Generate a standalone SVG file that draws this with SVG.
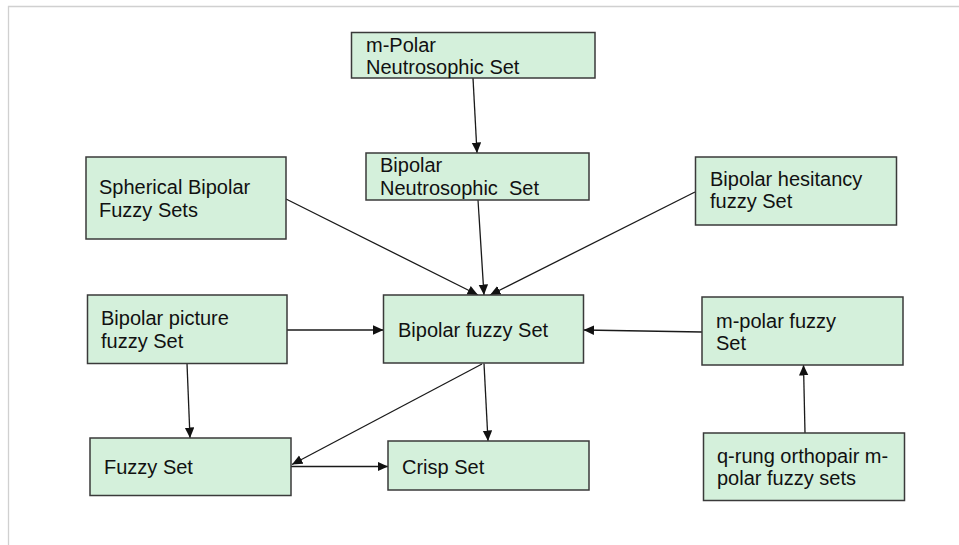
<svg xmlns="http://www.w3.org/2000/svg" width="959" height="545" viewBox="0 0 959 545">
  <style>
    .box rect { fill: #d4f0db; stroke: #3a3a3a; stroke-width: 1.5; }
    .box text { font-family: "Liberation Sans", Arial, sans-serif; font-size: 20px; fill: #111; white-space: pre; }
    .conn line { stroke: #1a1a1a; stroke-width: 1.3; marker-end: url(#arrow); }
  </style>
  <defs>
    <marker id="arrow" markerUnits="userSpaceOnUse" markerWidth="12" markerHeight="10" refX="10.5" refY="4.75" orient="auto">
      <path d="M0,0 L10.5,4.75 L0,9.5 z" fill="#111"/>
    </marker>
  </defs>
  <rect x="0" y="0" width="959" height="545" fill="#ffffff"/>
  <path d="M8.5,545 V6.5 H959" fill="none" stroke="#d0d0d0" stroke-width="1.3"/>

  <g id="conns" class="conn">
    <line x1="473" y1="78" x2="477" y2="153"/>
    <line x1="286" y1="199" x2="478" y2="295"/>
    <line x1="478" y1="200" x2="484" y2="295"/>
    <line x1="695" y1="192" x2="490" y2="295"/>
    <line x1="287" y1="330" x2="383.5" y2="330"/>
    <line x1="702" y1="332" x2="583.5" y2="330"/>
    <line x1="187" y1="363.5" x2="190" y2="438"/>
    <line x1="482" y1="364" x2="292" y2="464.5"/>
    <line x1="291" y1="466.5" x2="388" y2="466.5"/>
    <line x1="484" y1="363.5" x2="488" y2="441"/>
    <line x1="805" y1="433" x2="803.5" y2="365"/>
  </g>

  <g id="mpolar-neutro" class="box">
    <rect x="351.5" y="32.5" width="243.5" height="45.5"/>
    <text x="366" y="52">m-Polar</text>
    <text x="366" y="74">Neutrosophic Set</text>
  </g>
  <g id="bipolar-neutro" class="box">
    <rect x="366" y="153" width="223" height="47"/>
    <text x="380" y="172">Bipolar</text>
    <text x="380" y="195">Neutrosophic  Set</text>
  </g>
  <g id="spherical" class="box">
    <rect x="86" y="157" width="200" height="82"/>
    <text x="99" y="194">Spherical Bipolar</text>
    <text x="99" y="216.5">Fuzzy Sets</text>
  </g>
  <g id="hesitancy" class="box">
    <rect x="695.5" y="157" width="201" height="68"/>
    <text x="710" y="186">Bipolar hesitancy</text>
    <text x="710" y="208">fuzzy Set</text>
  </g>
  <g id="picture" class="box">
    <rect x="87.5" y="295" width="199.5" height="68.5"/>
    <text x="101" y="325">Bipolar picture</text>
    <text x="101" y="347.5">fuzzy Set</text>
  </g>
  <g id="bipolar-fuzzy" class="box">
    <rect x="383.5" y="295" width="200" height="68"/>
    <text x="398" y="337">Bipolar fuzzy Set</text>
  </g>
  <g id="mpolar-fuzzy" class="box">
    <rect x="702" y="297" width="201" height="68"/>
    <text x="716" y="328">m-polar fuzzy</text>
    <text x="716" y="350">Set</text>
  </g>
  <g id="fuzzy" class="box">
    <rect x="90" y="438" width="201" height="57.5"/>
    <text x="104" y="474">Fuzzy Set</text>
  </g>
  <g id="crisp" class="box">
    <rect x="388" y="441" width="201" height="49"/>
    <text x="402" y="474">Crisp Set</text>
  </g>
  <g id="qrung" class="box">
    <rect x="703.5" y="433" width="201" height="67.5"/>
    <text x="717" y="463">q-rung orthopair m-</text>
    <text x="717" y="485">polar fuzzy sets</text>
  </g>
</svg>
